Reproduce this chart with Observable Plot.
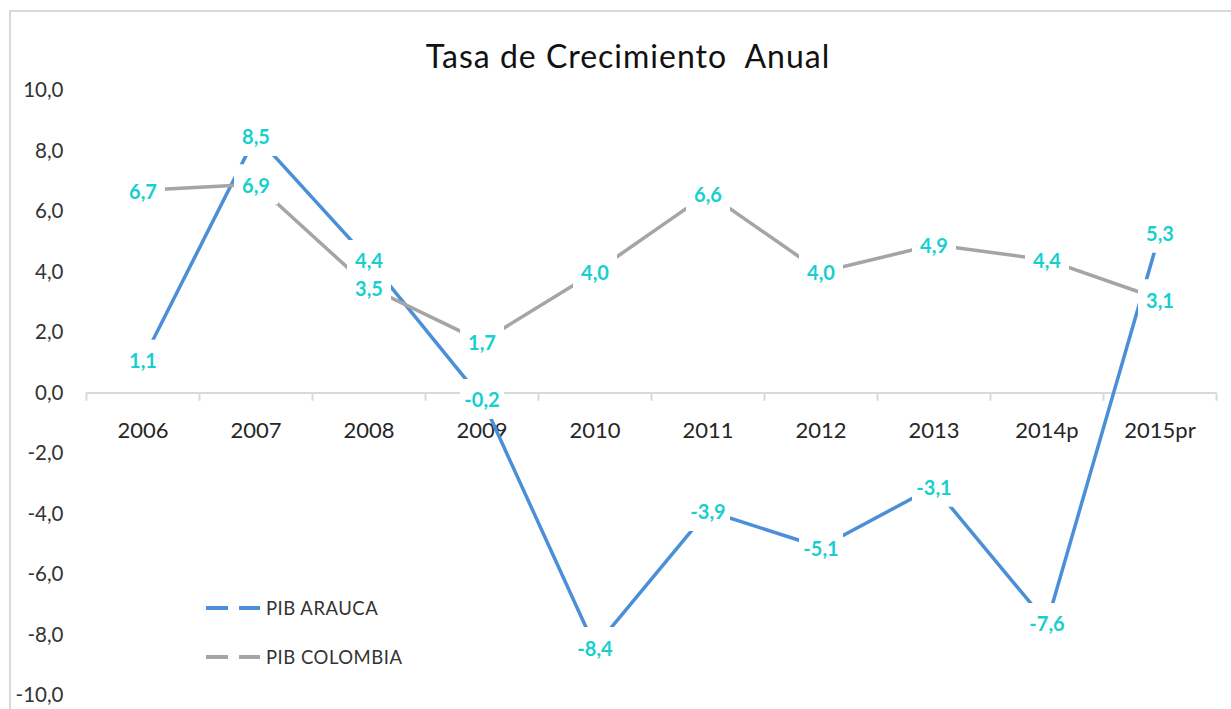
<!DOCTYPE html>
<html>
<head>
<meta charset="utf-8">
<script src="https://cdn.jsdelivr.net/npm/d3@7"></script>
<script src="https://cdn.jsdelivr.net/npm/@observablehq/plot@0.6"></script>
<style>
  html, body { margin: 0; padding: 0; background: #fff; }
  #wrap { position: relative; width: 1231px; height: 709px; overflow: hidden; font-family: Lato, "Open Sans", sans-serif; }
  #frame { position: absolute; left: 9px; top: 10px; width: 1240px; height: 720px; border: 2px solid #d9d9d9; box-sizing: border-box; }
  #title { position: absolute; left: 0; width: 1256px; top: 36px; text-align: center; font-size: 32px; letter-spacing: 1px; white-space: pre; color: #111; font-family: Lato, sans-serif; }
  #chart { position: absolute; left: 0; top: 0; }
  .leg { position: absolute; left: 204px; display: flex; align-items: center; font-size: 18.5px; letter-spacing: 0.5px; color: #333; }
  .leg svg { margin-right: 4px; }
</style>
</head>
<body>
<div id="wrap">
  <div id="frame"></div>
  <div id="chart"></div>
  <div id="title">Tasa de Crecimiento  Anual</div>
  <div id="legend"></div>
</div>
<script>
const years = ["2006", "2007", "2008", "2009", "2010", "2011", "2012", "2013", "2014p", "2015pr"];
const arauca = [1.1, 8.5, 4.4, -0.2, -8.4, -3.9, -5.1, -3.1, -7.6, 5.3];
const colombia = [6.7, 6.9, 3.5, 1.7, 4.0, 6.6, 4.0, 4.9, 4.4, 3.1];
const yTicks = [-10, -8, -6, -4, -2, 0, 2, 4, 6, 8, 10];
const seriesNames = ["PIB ARAUCA", "PIB COLOMBIA"];
const seriesColors = ["#4a8fd8", "#a5a5a5"];
const labelColor = "#17cfcf";

const fmt = v => v.toFixed(1).replace(".", ",");
const rows = [];
years.forEach((yr, i) => {
  rows.push({series: seriesNames[0], i, year: yr, value: arauca[i]});
});
years.forEach((yr, i) => {
  rows.push({series: seriesNames[1], i, year: yr, value: colombia[i]});
});
const araucaRows = rows.filter(d => d.series === seriesNames[0]);
const colombiaRows = rows.filter(d => d.series === seriesNames[1]);
const idx = years.map((_, i) => i);
const bounds = d3.range(years.length + 1).map(k => k - 0.5);

const boxSymbol = { draw(ctx) { ctx.rect(-22, -20, 44, 40); } };

const chart = Plot.plot({
  width: 1231,
  height: 709,
  marginLeft: 86,
  marginRight: 15,
  marginTop: 90,
  marginBottom: 14,
  style: { fontFamily: "Lato, 'Open Sans', sans-serif", background: "transparent", overflow: "visible" },
  x: { type: "linear", domain: [-0.5, years.length - 0.5], axis: null },
  y: { domain: [-10, 10], ticks: yTicks, tickFormat: fmt, tickSize: 0, tickPadding: 23, label: null },
  marks: [
    Plot.axisY({ ticks: yTicks, tickFormat: fmt, tickSize: 0, tickPadding: 23, label: null, fontSize: 20.5, color: "#333" }),
    Plot.ruleY([0], { stroke: "#d9d9d9", strokeWidth: 2 }),
    Plot.ruleX(bounds, { x: d => d, y1: 0, y2: -0.27, stroke: "#d9d9d9", strokeWidth: 2 }),
    Plot.text(idx, { x: d => d, y: 0, text: d => years[d], dy: 38, fontSize: 22, fill: "#262626" }),
    Plot.line(araucaRows, { x: "i", y: "value", stroke: seriesColors[0], strokeWidth: 3.5 }),
    Plot.line(colombiaRows, { x: "i", y: "value", stroke: seriesColors[1], strokeWidth: 3.5 }),
    Plot.dot(rows, { x: "i", y: "value", symbol: boxSymbol, fill: "white", stroke: null, r: 10 }),
    Plot.text(rows, { x: "i", y: "value", text: d => fmt(d.value), dy: 2, fontSize: 20, fontWeight: "bold", fill: labelColor })
  ]
});
document.getElementById("chart").appendChild(chart);

const legend = document.getElementById("legend");
seriesNames.forEach((name, k) => {
  const div = document.createElement("div");
  div.className = "leg";
  div.style.top = (597 + k * 49) + "px";
  div.innerHTML = `<svg width="58" height="22"><line x1="2" y1="11" x2="56" y2="11" stroke="${seriesColors[k]}" stroke-width="4" stroke-dasharray="22 11"/></svg><span>${name}</span>`;
  legend.appendChild(div);
});
</script>
</body>
</html>
